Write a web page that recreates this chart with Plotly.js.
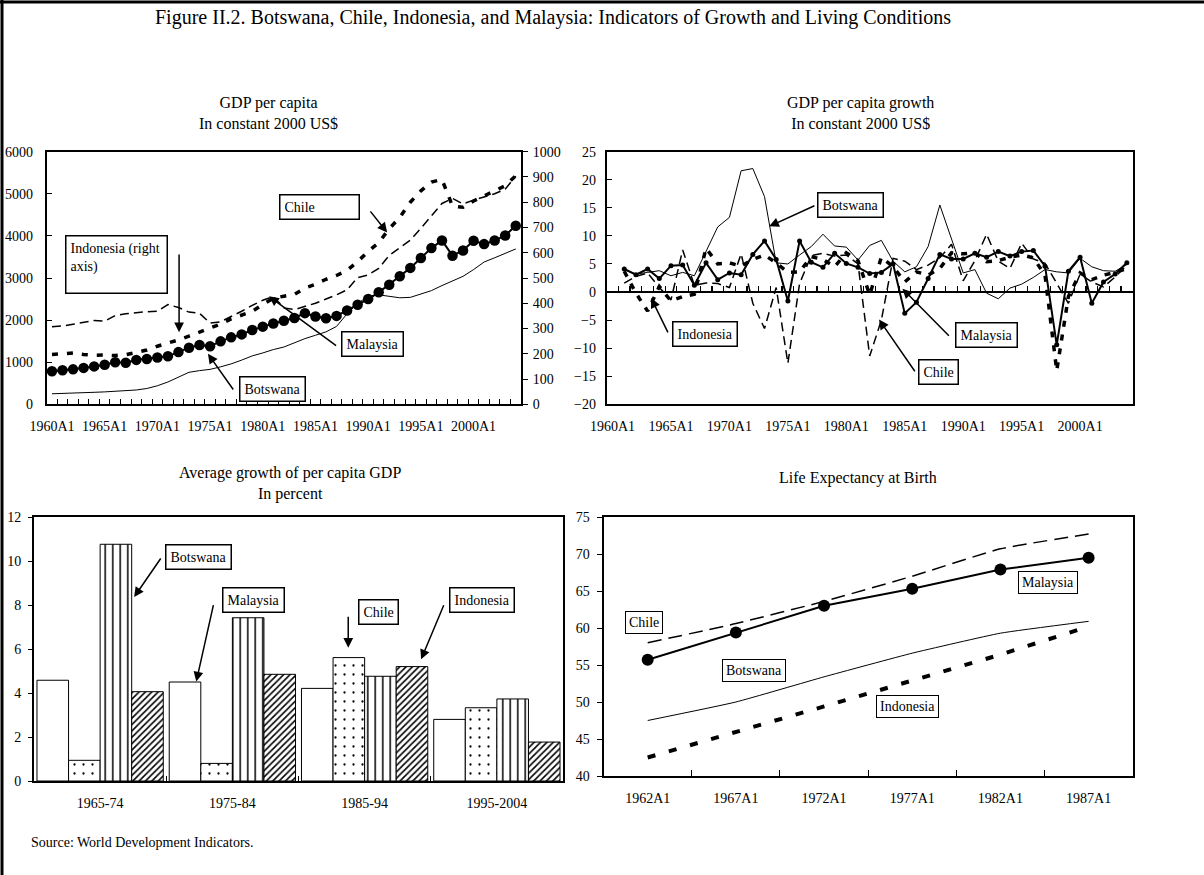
<!DOCTYPE html>
<html>
<head>
<meta charset="utf-8">
<script src="https://cdn.plot.ly/plotly-3.0.1.min.js"></script>
<style>
html,body{margin:0;padding:0;background:#fff;}
#chart{width:1204px;height:875px;}
</style>
</head>
<body>
<div id="chart"></div>
<script>
// ---- Categories ----
const levelYears = [1960,1961,1962,1963,1964,1965,1966,1967,1968,1969,
  1970,1971,1972,1973,1974,1975,1976,1977,1978,1979,
  1980,1981,1982,1983,1984,1985,1986,1987,1988,1989,
  1990,1991,1992,1993,1994,1995,1996,1997,1998,1999,
  2000,2001,2002,2003,2004];
const growthYears = [1961,1962,1963,1964,1965,1966,1967,1968,1969,
  1970,1971,1972,1973,1974,1975,1976,1977,1978,1979,
  1980,1981,1982,1983,1984,1985,1986,1987,1988,1989,
  1990,1991,1992,1993,1994,1995,1996,1997,1998,1999,
  2000,2001,2002,2003,2004];
const yearTickVals = [1960,1965,1970,1975,1980,1985,1990,1995,2000];
const yearTickText = ['1960A1','1965A1','1970A1','1975A1','1980A1','1985A1','1990A1','1995A1','2000A1'];
const periods = ['1965-74','1975-84','1985-94','1995-2004'];
const lifeYears = ['1962A1','1967A1','1972A1','1977A1','1982A1','1987A1'];

// ---- GDP per capita, constant 2000 US$ (Indonesia on the right axis) ----
const botswanaGdp = [250,255,265,275,285,295,305,315,340,375,
  440,530,640,760,800,830,890,960,1050,1150,
  1220,1300,1360,1460,1560,1640,1720,1850,2150,2400,
  2560,2600,2570,2530,2540,2620,2700,2820,2930,3040,
  3200,3380,3480,3580,3690];
const chileGdp = [1845,1860,1900,1950,1990,1975,2110,2150,2180,2200,
  2210,2370,2300,2190,2160,1930,1960,2080,2210,2350,
  2470,2560,2290,2250,2320,2400,2500,2600,2720,3010,
  3070,3230,3540,3730,3900,4180,4470,4770,4890,4760,
  4850,4930,5000,5110,5420];
const indonesiaGdp = [197,200,203,197,194,195,193,196,205,215,
  230,242,255,270,285,300,318,338,352,368,
  395,420,428,435,460,475,495,510,530,565,
  605,640,695,740,800,845,880,890,785,780,
  805,825,845,865,905];
const malaysiaGdp = [785,810,830,865,900,940,1000,985,1055,1075,
  1110,1140,1240,1345,1410,1380,1495,1590,1660,1765,
  1845,1920,1985,2050,2165,2085,2045,2100,2230,2365,
  2500,2660,2840,3040,3240,3475,3710,3890,3530,3655,
  3885,3805,3890,4010,4240];

// ---- GDP per capita growth, percent ----
const botswanaGrowth = [4.0,3.2,3.5,3.8,2.9,3.5,2.9,7.2,11.6,
  13.3,21.6,22.0,17.0,5.2,5.0,6.6,8.1,10.3,8.2,
  8.0,5.7,8.3,9.2,5.5,3.6,4.5,8.1,15.5,9.5,
  3.4,4.0,-0.2,-1.2,0.7,1.4,2.6,4.0,3.6,3.4,
  6.0,4.5,3.8,3.7,4.9];
const chileGrowth = [1.6,2.8,3.4,0.8,-1.4,7.5,1.2,1.6,1.5,
  0.8,6.8,-2.0,-6.5,0.8,-12.7,1.5,6.5,6.9,6.4,
  6.6,5.0,-11.4,-5.0,6.0,5.5,4.0,4.8,6.1,8.5,
  2.0,5.6,10.3,5.5,4.2,8.7,5.9,5.1,1.5,-2.0,
  3.2,1.8,0.9,2.7,4.8];
const indonesiaGrowth = [3.7,-0.2,-3.4,1.0,-1.6,-0.8,-0.4,7.8,5.0,
  5.2,4.6,5.8,6.6,5.2,3.5,3.6,6.3,5.8,4.5,
  7.0,5.6,-0.5,6.2,4.5,1.8,3.6,3.0,4.2,7.0,
  6.8,7.0,5.4,5.6,6.2,6.6,6.1,3.0,-14.0,-0.8,
  3.4,2.2,3.0,3.5,4.2];
const malaysiaGrowth = [4.1,3.1,4.1,2.4,4.7,4.8,1.2,5.2,2.2,
  3.4,3.1,6.7,9.1,5.8,-1.6,9.1,5.3,4.4,6.9,
  5.1,4.4,3.3,3.5,5.0,-3.8,-1.8,2.4,6.7,5.9,
  5.9,6.9,6.2,7.2,6.4,7.2,7.4,4.6,-9.4,3.7,
  6.2,-2.0,1.8,3.2,5.2];

// ---- Average growth of per capita GDP by decade, percent ----
const malaysiaAvg = [4.58, 4.50, 4.21, 2.80];
const chileAvg = [0.94, 0.80, 5.61, 3.33];
const botswanaAvg = [10.76, 7.42, 4.76, 3.73];
const indonesiaAvg = [4.06, 4.85, 5.20, 1.77];

// ---- Life expectancy at birth, years ----
const malaysiaLife = [55.7, 59.4, 63.0, 65.3, 67.9, 69.5];
const chileLife = [58.0, 60.6, 63.6, 67.0, 70.7, 72.7];
const botswanaLife = [47.5, 50.0, 53.4, 56.6, 59.3, 60.9];
const indonesiaLife = [42.5, 45.9, 49.4, 52.9, 56.4, 60.2];

// ---- Page geometry helpers (pixels -> paper fractions) ----
const W = 1204, H = 875;
const fx = px => px / W;
const fy = py => 1 - py / H;
const FONT = 'Liberation Serif, Times New Roman, serif';
const BLACK = '#000';
const tickFont = {family: FONT, size: 14, color: BLACK};

const traces = [
  // GDP per capita
  {x: levelYears, y: botswanaGdp, xaxis: 'x', yaxis: 'y', mode: 'lines', name: 'Botswana',
   line: {color: BLACK, width: 1}},
  {x: levelYears, y: chileGdp, xaxis: 'x', yaxis: 'y', mode: 'lines', name: 'Chile',
   line: {color: BLACK, width: 1.5, dash: '9px,5px'}},
  {x: levelYears, y: indonesiaGdp, xaxis: 'x', yaxis: 'y2', mode: 'lines', name: 'Indonesia',
   line: {color: BLACK, width: 3.5, dash: '6px,9px'}},
  {x: levelYears, y: malaysiaGdp, xaxis: 'x', yaxis: 'y', mode: 'lines+markers', name: 'Malaysia',
   line: {color: BLACK, width: 2}, marker: {color: BLACK, size: 10.5}},

  // GDP per capita growth
  {x: growthYears, y: botswanaGrowth, xaxis: 'x2', yaxis: 'y3', mode: 'lines', name: 'Botswana',
   line: {color: BLACK, width: 1}},
  {x: growthYears, y: chileGrowth, xaxis: 'x2', yaxis: 'y3', mode: 'lines', name: 'Chile',
   line: {color: BLACK, width: 1.5, dash: '9px,5px'}},
  {x: growthYears, y: indonesiaGrowth, xaxis: 'x2', yaxis: 'y3', mode: 'lines', name: 'Indonesia',
   line: {color: BLACK, width: 3.5, dash: '6px,8px'}},
  {x: growthYears, y: malaysiaGrowth, xaxis: 'x2', yaxis: 'y3', mode: 'lines+markers', name: 'Malaysia',
   line: {color: BLACK, width: 2}, marker: {color: BLACK, size: 5}},
  // carrier for the tick marks drawn along the zero line
  {x: [null], y: [null], xaxis: 'x5', yaxis: 'y3', mode: 'lines', hoverinfo: 'skip'},

  // Average growth bars
  {type: 'bar', x: periods, y: malaysiaAvg, xaxis: 'x3', yaxis: 'y4', name: 'Malaysia',
   marker: {color: '#fff', line: {color: BLACK, width: 1}}},
  {type: 'bar', x: periods, y: chileAvg, xaxis: 'x3', yaxis: 'y4', name: 'Chile',
   marker: {color: '#fff', line: {color: BLACK, width: 1},
            pattern: {shape: '.', size: 9, solidity: 0.05, fgcolor: BLACK, bgcolor: '#fff', fillmode: 'replace'}}},
  {type: 'bar', x: periods, y: botswanaAvg, xaxis: 'x3', yaxis: 'y4', name: 'Botswana',
   marker: {color: '#fff', line: {color: BLACK, width: 1},
            pattern: {shape: '|', size: 7.5, solidity: 0.2, fgcolor: BLACK, bgcolor: '#fff', fillmode: 'replace'}}},
  {type: 'bar', x: periods, y: indonesiaAvg, xaxis: 'x3', yaxis: 'y4', name: 'Indonesia',
   marker: {color: '#fff', line: {color: BLACK, width: 1},
            pattern: {shape: '/', size: 4.5, solidity: 0.35, fgcolor: BLACK, bgcolor: '#fff', fillmode: 'replace'}}},

  // Life expectancy
  {x: lifeYears, y: chileLife, xaxis: 'x4', yaxis: 'y5', mode: 'lines', name: 'Chile',
   line: {color: BLACK, width: 1.5, dash: '14px,7px', shape: 'spline', smoothing: 0.4}},
  {x: lifeYears, y: botswanaLife, xaxis: 'x4', yaxis: 'y5', mode: 'lines', name: 'Botswana',
   line: {color: BLACK, width: 1, shape: 'spline', smoothing: 0.4}},
  {x: lifeYears, y: indonesiaLife, xaxis: 'x4', yaxis: 'y5', mode: 'lines', name: 'Indonesia',
   line: {color: BLACK, width: 4, dash: '8px,14px'}},
  {x: lifeYears, y: malaysiaLife, xaxis: 'x4', yaxis: 'y5', mode: 'lines+markers', name: 'Malaysia',
   line: {color: BLACK, width: 2}, marker: {color: BLACK, size: 12}}
];

const frame = {showline: true, linewidth: 2, linecolor: BLACK, mirror: true,
               showgrid: false, zeroline: false, tickfont: tickFont, tickcolor: BLACK};

// vertical domains
const topRow = [fy(404.3), fy(151.7)];
const growthZero = topRow[0] + (20 / 45) * (topRow[1] - topRow[0]);

const layout = {
  width: W, height: H,
  margin: {l: 0, r: 0, t: 0, b: 0},
  paper_bgcolor: '#fff', plot_bgcolor: '#fff',
  showlegend: false,
  font: {family: FONT, color: BLACK},
  bargap: 0.045, bargroupgap: 0, barmode: 'group',

  xaxis: Object.assign({}, frame, {
    domain: [fx(46.7), fx(521)], anchor: 'y', range: [1959.5, 2004.5],
    tickmode: 'array', tickvals: yearTickVals, ticktext: yearTickText, ticks: '',
    ticklabelstandoff: 8,
    minor: {tickmode: 'linear', tick0: 1959.5, dtick: 1, ticks: 'inside', ticklen: 5,
            tickwidth: 1, tickcolor: BLACK, showgrid: false}
  }),
  yaxis: Object.assign({}, frame, {
    domain: topRow, anchor: 'x', range: [0, 6000], dtick: 1000,
    ticks: 'inside', ticklen: 5, ticklabelstandoff: 9
  }),
  yaxis2: Object.assign({}, frame, {
    overlaying: 'y', side: 'right', anchor: 'x', range: [0, 1000], dtick: 100,
    ticks: 'outside', ticklen: 5, mirror: false, ticklabelstandoff: 2
  }),

  xaxis2: Object.assign({}, frame, {
    domain: [fx(606.7), fx(1132.7)], anchor: 'y3', range: [1959.5, 2004.5],
    tickmode: 'array', tickvals: yearTickVals, ticktext: yearTickText, ticks: '',
    ticklabelstandoff: 8
  }),
  yaxis3: Object.assign({}, frame, {
    domain: topRow, anchor: 'x2', range: [-20, 25], dtick: 5,
    ticks: 'inside', ticklen: 5, ticklabelstandoff: 6,
    zeroline: true, zerolinewidth: 2, zerolinecolor: BLACK
  }),
  xaxis5: {
    overlaying: 'x2', anchor: 'free', position: growthZero, range: [1959.5, 2004.5],
    tickmode: 'linear', tick0: 1959.5, dtick: 1, ticks: 'inside', ticklen: 6,
    tickwidth: 1.2, tickcolor: BLACK, showticklabels: false,
    showline: false, showgrid: false, zeroline: false
  },

  xaxis3: Object.assign({}, frame, {
    domain: [fx(34), fx(563)], anchor: 'y4', type: 'category', range: [-0.5, 3.5],
    ticks: 'inside', tickson: 'boundaries', ticklen: 5, ticklabelstandoff: 8
  }),
  yaxis4: Object.assign({}, frame, {
    domain: [fy(781), fy(517)], anchor: 'x3', range: [0, 12], dtick: 2,
    ticks: 'outside', ticklen: 4, ticklabelstandoff: 4
  }),

  xaxis4: Object.assign({}, frame, {
    domain: [fx(603.6), fx(1132.7)], anchor: 'y5', type: 'category', range: [-0.5, 5.5],
    ticks: 'inside', tickson: 'boundaries', ticklen: 6, ticklabelstandoff: 8
  }),
  yaxis5: Object.assign({}, frame, {
    domain: [fy(776), fy(517)], anchor: 'x4', range: [40, 75], dtick: 5,
    ticks: 'outside', ticklen: 5, ticklabelstandoff: 4
  }),

  shapes: [
    {type: 'line', xref: 'paper', yref: 'paper', x0: 0, x1: 1, y0: fy(2), y1: fy(2),
     line: {color: BLACK, width: 3}},
    {type: 'line', xref: 'paper', yref: 'paper', x0: fx(2), x1: fx(2), y0: 0, y1: 1,
     line: {color: BLACK, width: 3}}
  ],
  annotations: []
};

const ann = layout.annotations;
function text(x, y, t, size, xanchor) {
  ann.push({xref: 'paper', yref: 'paper', x: fx(x), y: fy(y), text: t, showarrow: false,
            xanchor: xanchor || 'center', yanchor: 'middle',
            font: {family: FONT, size: size, color: BLACK}});
}
function box(xr, yr, x, y, t, extra) {
  ann.push(Object.assign({xref: xr, yref: yr, x: x, y: y, text: t, showarrow: false,
    xanchor: 'center', yanchor: 'middle', bgcolor: '#fff', bordercolor: BLACK,
    borderwidth: 1.5, borderpad: 4, font: {family: FONT, size: 14, color: BLACK}}, extra || {}));
}
function arrow(xr, yr, tx, ty, hx, hy) {
  ann.push({xref: xr, yref: yr, axref: xr, ayref: yr, x: hx, y: hy, ax: tx, ay: ty,
    text: '', showarrow: true, arrowhead: 2, arrowsize: 1.3, arrowwidth: 1.5, arrowcolor: BLACK});
}

// Titles
text(553, 17, 'Figure II.2. Botswana, Chile, Indonesia, and Malaysia: Indicators of Growth and Living Conditions', 20);
text(268, 113, 'GDP per capita<br>In constant 2000 US$', 16);
text(860, 113, 'GDP per capita growth<br>In constant 2000 US$', 16);
text(290, 483, 'Average growth of per capita GDP<br>In percent', 16);
text(858, 478, 'Life Expectancy at Birth', 16);
text(29, 842, 'Source: World Development Indicators.', 14, 'left');

// GDP per capita labels
box('x', 'y', 1985.4, 4689, 'Chile', {width: 70, align: 'left'});
arrow('x', 'y', 1990.1, 4618, 1991.8, 4081);
box('x', 'y', 1966.15, 3316, 'Indonesia (right<br>axis)', {width: 92, height: 48, align: 'left', valign: 'top'});
arrow('x', 'y', 1972.06, 3592, 1972.06, 1713);
box('x', 'y', 1990.4, 1421, 'Malaysia');
arrow('x', 'y', 1987.1, 1366, 1980.6, 2566);
box('x', 'y', 1980.9, 371, 'Botswana');
arrow('x', 'y', 1977.3, 316, 1974.8, 1200);

// Growth labels
box('x2', 'y3', 1980.33, 15.44, 'Botswana');
arrow('x2', 'y3', 1977.4, 15.5, 1973.4, 11.7);
box('x2', 'y3', 1967.95, -7.46, 'Indonesia');
arrow('x2', 'y3', 1964.8, -7.46, 1963.3, -1.07);
box('x2', 'y3', 1992.0, -7.63, 'Malaysia');
arrow('x2', 'y3', 1988.9, -8.05, 1984.8, 0.59);
box('x2', 'y3', 1987.9, -14.2, 'Chile');
arrow('x2', 'y3', 1985.95, -14.38, 1982.8, -4.91);

// Average growth labels
box('x3', 'y4', 0.744, 10.2, 'Botswana');
arrow('x3', 'y4', 0.466, 10.18, 0.257, 8.36);
box('x3', 'y4', 1.163, 8.21, 'Malaysia');
arrow('x3', 'y4', 0.859, 8.06, 0.727, 4.52);
box('x3', 'y4', 2.105, 7.67, 'Chile');
arrow('x3', 'y4', 1.876, 7.53, 1.876, 6.06);
box('x3', 'y4', 2.887, 8.24, 'Indonesia');
arrow('x3', 'y4', 2.603, 8.06, 2.427, 5.53);

// Life expectancy labels
const thin = {borderwidth: 1, borderpad: 3};
box('x4', 'y5', -0.045, 60.77, 'Chile', thin);
box('x4', 'y5', 1.206, 54.2, 'Botswana', thin);
box('x4', 'y5', 4.538, 66.2, 'Malaysia', thin);
box('x4', 'y5', 2.951, 49.46, 'Indonesia', thin);

Plotly.newPlot('chart', traces, layout, {staticPlot: true, displayModeBar: false});
</script>
</body>
</html>
